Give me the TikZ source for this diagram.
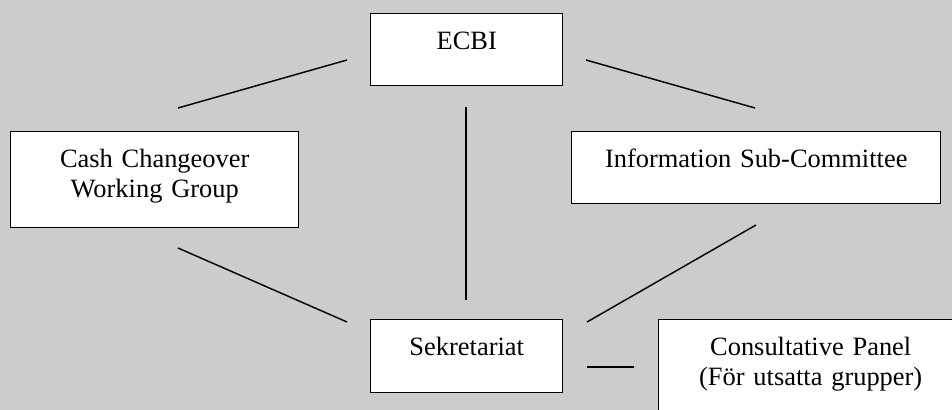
\documentclass[tikz,border=0pt]{standalone}
\usepackage{fontspec}
\setmainfont{Liberation Serif}
\usepackage{xcolor}
\usepackage{tikz}
\definecolor{page}{HTML}{CCCCCC}
\tikzset{
  box/.style={draw=black, fill=white, line width=0.36mm, inner xsep=0pt, inner ysep=0pt,
    align=center, anchor=north west, text height=9mm,
    font=\fontsize{18.8pt}{21.3pt}\selectfont},
  link/.style={line width=0.36mm, draw=black}
}

\begin{document}
\begin{tikzpicture}[x=0.25mm,y=-0.25mm]
\useasboundingbox (0,0) rectangle (952,410);
\clip (0,0) rectangle (952,410);
\fill[page] (0,0) rectangle (952,410);

% boxes
\node[box, text width=48mm, text depth=9mm] (ecbi) at (370,13) {ECBI};
\node[box, text width=72mm, text depth=15mm] (cash) at (10,131) {Cash Changeover\\Working Group};
\node[box, text width=92.25mm, text depth=9mm] (info) at (571,131) {Information Sub-Committee};
\node[box, text width=48mm, text depth=9.25mm] (sek) at (370,319) {Sekretariat};
\node[box, text width=76mm, text depth=15mm] (cons) at (658,319) {Consultative Panel\\(För utsatta grupper)};

% line ends
\coordinate (ecbiL) at (347,60);
\coordinate (cashT) at (178,108);
\coordinate (ecbiR) at (586,60);
\coordinate (infoT) at (755,108);
\coordinate (ecbiB) at (466,107);
\coordinate (sekT) at (466,300);
\coordinate (cashB) at (178,248);
\coordinate (sekL) at (347,322);
\coordinate (infoB) at (756,225);
\coordinate (sekR) at (587,322);
\coordinate (sekE) at (587,367);
\coordinate (consW) at (634,367);

% links
\draw[link] (ecbiL) -- (cashT);
\draw[link] (ecbiR) -- (infoT);
\draw[link, line width=0.27mm] (ecbiB) -- (sekT);
\draw[link] (cashB) -- (sekL);
\draw[link] (infoB) -- (sekR);
\draw[link] (sekE) -- (consW);
\end{tikzpicture}
\end{document}
